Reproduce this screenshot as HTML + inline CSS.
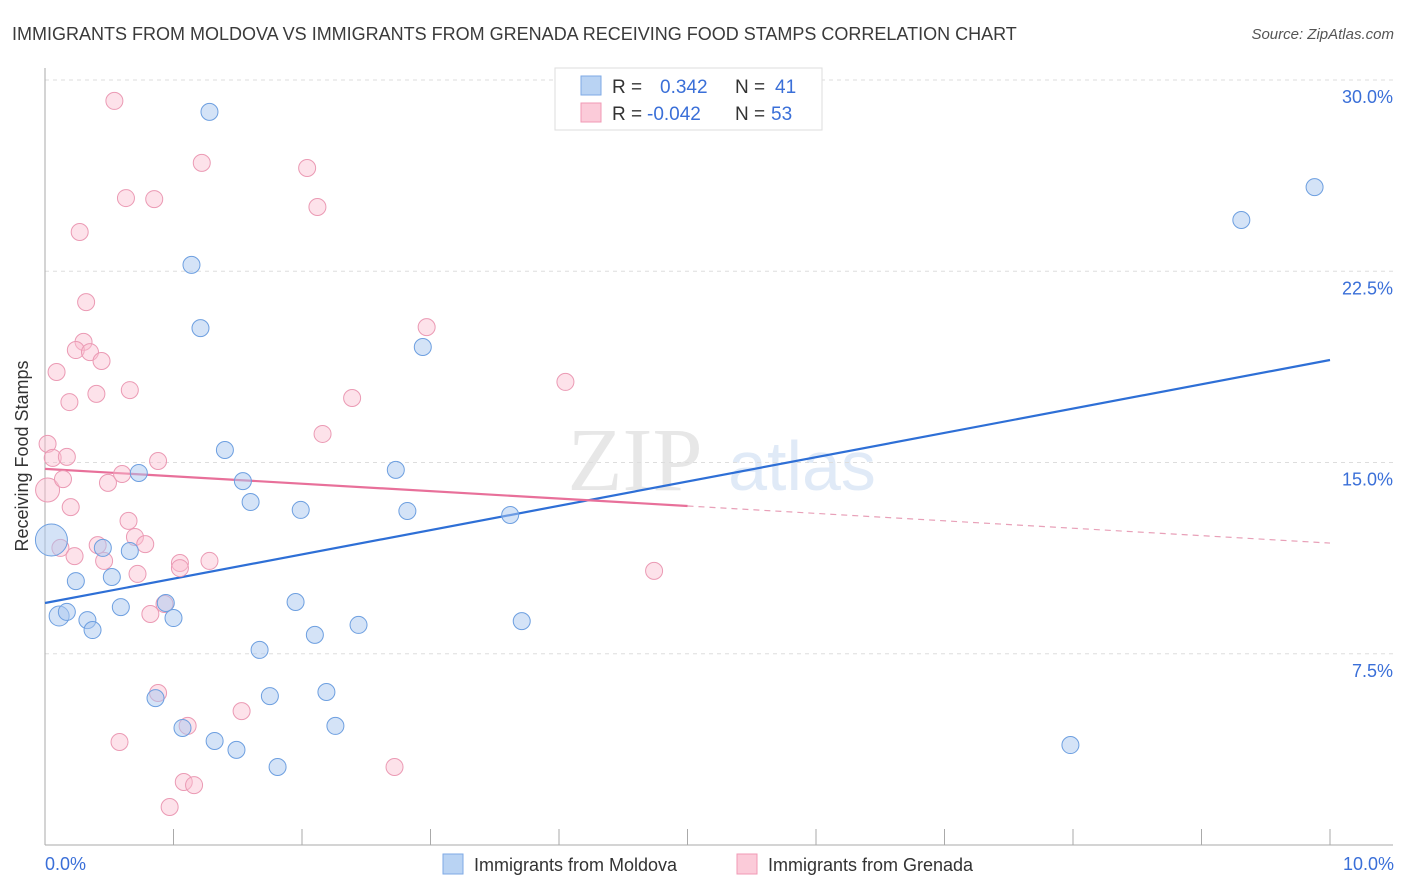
<!DOCTYPE html>
<html><head><meta charset="utf-8"><style>
body{margin:0;background:#fff;font-family:"Liberation Sans",sans-serif;}
svg{display:block}
</style></head><body>
<svg id="chart" width="1406" height="892">
<text x="12" y="40" font-size="18" fill="#3a3a3a">IMMIGRANTS FROM MOLDOVA VS IMMIGRANTS FROM GRENADA RECEIVING FOOD STAMPS CORRELATION CHART</text>
<text x="1394" y="39" font-size="15" fill="#555" text-anchor="end" font-style="italic">Source: ZipAtlas.com</text>
<g opacity="0.35">
<text x="635" y="490" font-size="90" font-family="Liberation Serif,serif" fill="#bbb" text-anchor="middle">ZIP</text>
<text x="802" y="490" font-size="70" fill="#a9c6ea" text-anchor="middle">atlas</text>
</g>
<g id="grid"></g><g id="axes"></g><g id="lines"></g><g id="points"></g>
<text x="28" y="456" font-size="18" fill="#333" text-anchor="middle" transform="rotate(-90 28 456)">Receiving Food Stamps</text>
<text x="45" y="870" font-size="18" fill="#3a6fd8">0.0%</text>
<text x="1394" y="870" font-size="18" fill="#3a6fd8" text-anchor="end">10.0%</text>
<g>
<rect x="555" y="68" width="267" height="62" fill="#fff" stroke="#ddd"/>
<rect x="581" y="76" width="20" height="19" fill="#b9d3f3" stroke="#7eaae6"/>
<rect x="581" y="103" width="20" height="19" fill="#fbcbd9" stroke="#f09ab5"/>
<text x="612" y="93" font-size="19" fill="#333">R =</text><text x="660" y="93" font-size="19" fill="#3a6fd8">0.342</text>
<text x="735" y="93" font-size="19" fill="#333">N =</text><text x="775" y="93" font-size="19" fill="#3a6fd8">41</text>
<text x="612" y="120" font-size="19" fill="#333">R =</text><text x="647" y="120" font-size="19" fill="#3a6fd8">-0.042</text>
<text x="735" y="120" font-size="19" fill="#333">N =</text><text x="771" y="120" font-size="19" fill="#3a6fd8">53</text>
</g>
<g>
<rect x="443" y="854" width="20" height="20" fill="#b9d3f3" stroke="#7eaae6"/>
<text x="474" y="871" font-size="18" fill="#333">Immigrants from Moldova</text>
<rect x="737" y="854" width="20" height="20" fill="#fbcbd9" stroke="#f09ab5"/>
<text x="768" y="871" font-size="18" fill="#333">Immigrants from Grenada</text>
</g>
</svg>
<script>
const yTicks=[7.5,15,22.5,30];
const yTickLabels=["7.5%","15.0%","22.5%","30.0%"];
const xTicks=[1,2,3,4,5,6,7,8,9,10];
const moldovaX=[0.05,0.11,0.17,0.24,0.33,0.37,0.45,0.52,0.59,0.66,0.73,0.86,0.94,1.00,1.07,1.14,1.21,1.28,1.32,1.40,1.49,1.54,1.60,1.67,1.75,1.81,1.95,1.99,2.10,2.19,2.26,2.44,2.73,2.82,2.94,3.62,3.71,7.98,9.31,9.88];
const moldovaY=[11.96,8.98,9.14,10.35,8.82,8.43,11.65,10.51,9.33,11.53,14.59,5.76,9.49,8.90,4.59,22.75,20.27,28.75,4.08,15.49,3.73,14.27,13.45,7.65,5.84,3.06,9.53,13.14,8.24,6.00,4.67,8.63,14.71,13.10,19.53,12.94,8.78,3.92,24.51,25.80];
const grenadaX=[0.02,0.02,0.06,0.09,0.12,0.14,0.17,0.19,0.20,0.23,0.27,0.32,0.30,0.24,0.35,0.40,0.41,0.44,0.46,0.49,0.54,0.58,0.60,0.63,0.65,0.66,0.70,0.72,0.78,0.82,0.85,0.88,0.88,0.93,0.97,1.05,1.05,1.08,1.11,1.16,1.22,1.28,1.53,2.04,2.12,2.16,2.39,2.72,2.97,4.05,4.74];
const grenadaY=[13.92,15.73,15.18,18.55,11.65,14.35,15.22,17.37,13.25,11.33,24.04,21.29,19.73,19.41,19.33,17.69,11.76,18.98,11.14,14.20,29.18,4.04,14.55,25.37,12.71,17.84,12.08,10.63,11.80,9.06,25.33,15.06,5.96,9.45,1.49,11.06,10.86,2.47,4.67,2.35,26.75,11.14,5.25,26.55,25.02,16.12,17.53,3.06,20.31,18.16,10.75];
const moldovaTrend=[9.49,19.02];
const grenadaTrend=[14.75,11.84];
const grenadaSolidEnd=5.0;
const NS="http://www.w3.org/2000/svg";
const sx=v=>45+v*128.5, sy=v=>845-v*25.5;
function mk(tag,attrs,parent){const e=document.createElementNS(NS,tag);for(const k in attrs)e.setAttribute(k,attrs[k]);document.getElementById(parent).appendChild(e);return e;}
yTicks.forEach((t,i)=>{
 const l=mk('line',{x1:45,x2:1393,y1:sy(t),y2:sy(t),stroke:'#ddd','stroke-dasharray':'4,4'},'grid');
 
 
 const tx=mk('text',{x:1393,y:sy(t)+23,'font-size':18,fill:'#3a6fd8','text-anchor':'end'},'grid');
 tx.textContent=yTickLabels[i];
 
 
});
let a=mk('line',{x1:45,x2:45,y1:68,y2:845,stroke:'#aaa'},'axes');


a=mk('line',{x1:45,x2:1393,y1:845,y2:845,stroke:'#aaa'},'axes');


xTicks.forEach(t=>{const l=mk('line',{x1:sx(t),x2:sx(t),y1:829,y2:845,stroke:'#aaa'},'axes');
 
 });
let ln=mk('line',{x1:sx(0),y1:sy(moldovaTrend[0]),x2:sx(10),y2:sy(moldovaTrend[1]),stroke:'#2e6fd6','stroke-width':2.2},'lines');


const gAt=x=>grenadaTrend[0]+(grenadaTrend[1]-grenadaTrend[0])*x/10;
ln=mk('line',{x1:sx(0),y1:sy(gAt(0)),x2:sx(grenadaSolidEnd),y2:sy(gAt(grenadaSolidEnd)),stroke:'#e8709a','stroke-width':2.2},'lines');


ln=mk('line',{x1:sx(grenadaSolidEnd),y1:sy(gAt(grenadaSolidEnd)),x2:sx(10),y2:sy(gAt(10)),stroke:'#e8a0b8','stroke-width':1.2,'stroke-dasharray':'6,5'},'lines');


grenadaX.forEach((x,i)=>{const c=mk('circle',{cx:sx(x),cy:sy(grenadaY[i]),r:(i<1?12:8.5),fill:'rgba(251,190,208,0.45)',stroke:'#eb9ab4','stroke-width':1},'points');
 
 });
moldovaX.forEach((x,i)=>{const c=mk('circle',{cx:sx(x),cy:sy(moldovaY[i]),r:(i==0?16:(i==1?10:8.5)),fill:'rgba(170,200,240,0.5)',stroke:'#6d9fe0','stroke-width':1},'points');
 
 });
</script>
</body></html>
